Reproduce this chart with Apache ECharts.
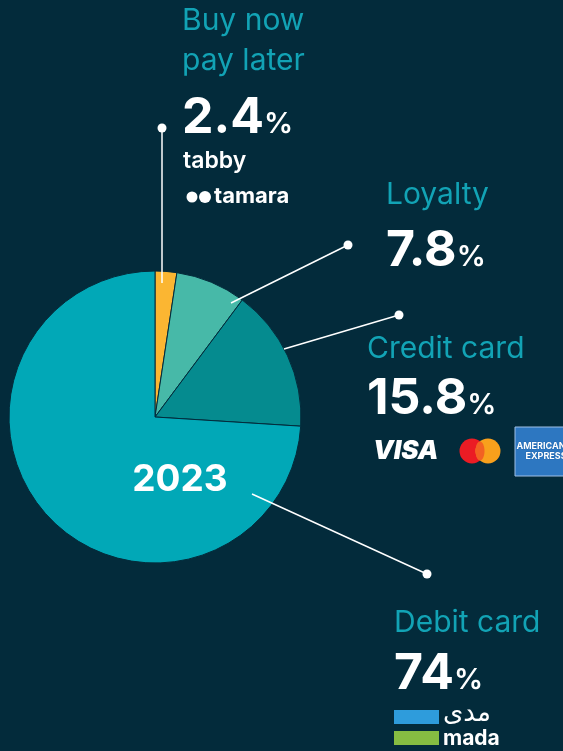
<!DOCTYPE html>
<html>
<head>
<meta charset="utf-8">
<script src="https://cdn.jsdelivr.net/npm/echarts@6/dist/echarts.min.js"></script>
<style>
  html, body { margin: 0; padding: 0; background: #032b3b; }
  #chart { width: 563px; height: 751px; }
</style>
</head>
<body>
<div id="chart"></div>
<script>
// payment method shares, 2023
const categories = ['Buy now\npay later', 'Loyalty', 'Credit card', 'Debit card'];
const shares = [2.4, 7.8, 15.8, 74];
const sliceColors = ['#fbb632', '#47b9a8', '#058b8f', '#01a8b7'];
const yearLabel = '2023';

const BG = '#032b3b';
const TEAL = '#12a3b5';
const FONT = 'Inter, "Liberation Sans", sans-serif';

// where each annotation sits: title, value, leader line start (inside slice) and dot
const notes = [
  { x: 182, titleY: 41, valueY: 115, from: [162, 283], dot: [162, 128] },
  { x: 386, titleY: 195, valueY: 248, from: [231, 303], dot: [348, 245] },
  { x: 367, titleY: 349, valueY: 396, from: [284, 349], dot: [399, 315] },
  { x: 394, titleY: 623, valueY: 671, from: [252, 494], dot: [427, 574] }
];

const chart = echarts.init(document.getElementById('chart'));

const graphics = [];
notes.forEach((n, i) => {
  graphics.push({
    type: 'line', silent: true, z: 10,
    shape: { x1: n.from[0], y1: n.from[1], x2: n.dot[0], y2: n.dot[1] },
    style: { stroke: '#ffffff', lineWidth: 1.5 }
  });
  graphics.push({
    type: 'circle', silent: true, z: 10,
    shape: { cx: n.dot[0], cy: n.dot[1], r: 4.5 },
    style: { fill: '#ffffff' }
  });
  graphics.push({
    type: 'text', silent: true, z: 10, x: n.x, y: n.titleY,
    style: {
      text: categories[i], fill: TEAL, font: '30px ' + FONT,
      lineHeight: 40, textVerticalAlign: 'middle', textAlign: 'left'
    }
  });
  graphics.push({
    type: 'text', silent: true, z: 10, x: n.x, y: n.valueY,
    style: {
      text: '{n|' + shares[i] + '}{p|%}', textVerticalAlign: 'middle', textAlign: 'left',
      rich: {
        n: { fontSize: 50, fontWeight: 'bold', fontFamily: FONT, fill: '#ffffff', color: '#ffffff', lineHeight: 56, verticalAlign: 'bottom' },
        p: { fontSize: 29, fontWeight: 600, fontFamily: FONT, fill: '#ffffff', color: '#ffffff', lineHeight: 56, verticalAlign: 'bottom', padding: [0, 0, 4, 0] }
      }
    }
  });
});

// year in the middle of the big slice
graphics.push({
  type: 'text', silent: true, z: 10, x: 180, y: 480,
  style: { text: yearLabel, fill: '#ffffff', font: 'bold 37px ' + FONT, textAlign: 'center', textVerticalAlign: 'middle' }
});

// brand marks
graphics.push(
  { type: 'text', silent: true, x: 183, y: 161, style: { text: 'tabby', fill: '#fff', font: '600 23px ' + FONT, textVerticalAlign: 'middle' } },
  { type: 'circle', silent: true, shape: { cx: 192, cy: 197, r: 5.5 }, style: { fill: '#fff' } },
  { type: 'circle', silent: true, shape: { cx: 205, cy: 197, r: 6 }, style: { fill: '#fff' } },
  { type: 'text', silent: true, x: 214, y: 196, style: { text: 'tamara', fill: '#fff', font: 'bold 22px ' + FONT, textVerticalAlign: 'middle' } },
  { type: 'text', silent: true, x: 373, y: 451, style: { text: 'VISA', fill: '#fff', font: 'italic 900 26px ' + FONT, textVerticalAlign: 'middle' } },
  { type: 'circle', silent: true, shape: { cx: 472, cy: 451, r: 12.5 }, style: { fill: '#eb1c24' } },
  { type: 'circle', silent: true, shape: { cx: 488, cy: 451, r: 12.5 }, style: { fill: '#f8a01c' } },
  { type: 'ellipse', silent: true, shape: { cx: 480, cy: 451, rx: 4.5, ry: 9.5 }, style: { fill: '#f26122' } },
  { type: 'rect', silent: true, shape: { x: 515, y: 427, width: 52, height: 49 }, style: { fill: '#2d77c1', stroke: '#9fc0e6', lineWidth: 1 } },
  { type: 'text', silent: true, x: 541, y: 446, style: { text: 'AMERICAN', fill: '#fff', stroke: '#1c5fa6', lineWidth: 0.5, font: 'bold 9px ' + FONT, textAlign: 'center', textVerticalAlign: 'middle' } },
  { type: 'text', silent: true, x: 546, y: 456, style: { text: 'EXPRESS', fill: '#fff', stroke: '#1c5fa6', lineWidth: 0.5, font: 'bold 9px ' + FONT, textAlign: 'center', textVerticalAlign: 'middle' } },
  { type: 'rect', silent: true, shape: { x: 394, y: 710, width: 45, height: 14 }, style: { fill: '#2e9cdc' } },
  { type: 'rect', silent: true, shape: { x: 394, y: 731, width: 45, height: 14 }, style: { fill: '#86bd42' } },
  { type: 'text', silent: true, x: 443, y: 714, style: { text: 'مدى', fill: '#fff', font: '26px "DejaVu Sans", sans-serif', textVerticalAlign: 'middle' } },
  { type: 'text', silent: true, x: 443, y: 739, style: { text: 'mada', fill: '#fff', font: 'bold 21px ' + FONT, textVerticalAlign: 'middle' } }
);

const option = {
  backgroundColor: BG,
  animation: false,
  series: [
    {
      type: 'pie',
      center: [155, 417],
      radius: 146,
      startAngle: 90,
      clockwise: true,
      silent: true,
      label: { show: false },
      labelLine: { show: false },
      itemStyle: { borderColor: BG, borderWidth: 1 },
      data: categories.map((name, i) => ({
        name: name,
        value: shares[i],
        itemStyle: { color: sliceColors[i] }
      }))
    }
  ],
  graphic: graphics
};

chart.setOption(option);
</script>
</body>
</html>
